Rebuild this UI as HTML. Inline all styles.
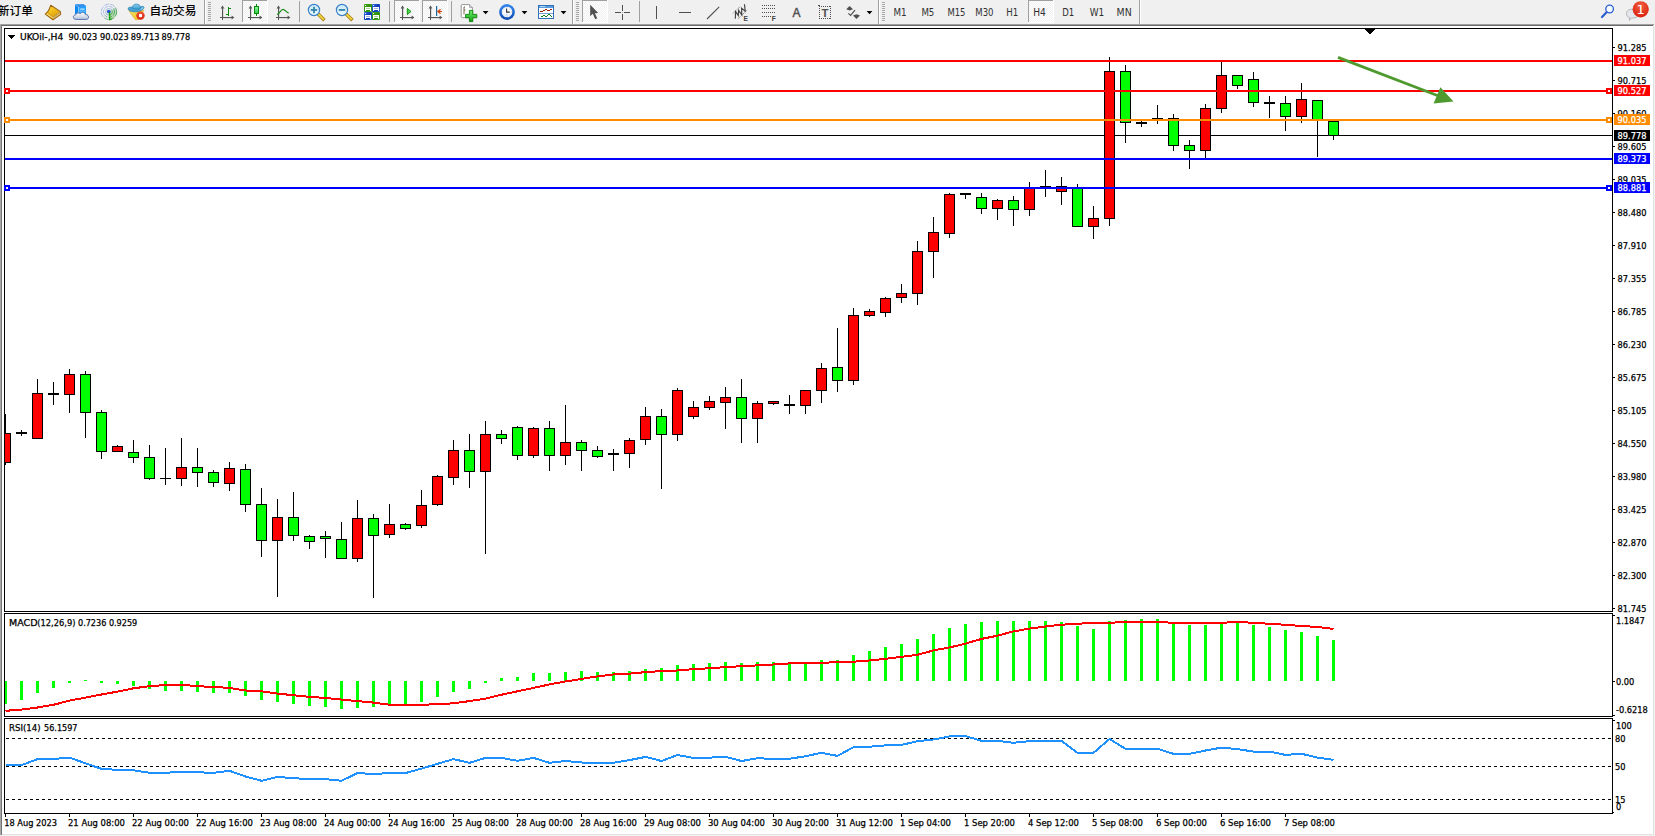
<!DOCTYPE html>
<html><head><meta charset="utf-8"><title>UKOil H4</title>
<style>
html,body{margin:0;padding:0;background:#f0f0f0;overflow:hidden}
body{width:1655px;height:836px;position:relative;font-family:"Liberation Sans","Noto Sans CJK SC",sans-serif}
svg text{white-space:pre}
</style></head><body>
<svg id="chart" width="1655" height="836" viewBox="0 0 1655 836" shape-rendering="crispEdges" font-family="'DejaVu Sans Condensed','DejaVu Sans','Liberation Sans',sans-serif" style="position:absolute;left:0;top:0"><defs><clipPath id="cp"><rect x="5" y="29" width="1607" height="582"/></clipPath><clipPath id="cp2"><rect x="5" y="614" width="1607" height="102"/></clipPath><clipPath id="cp3"><rect x="5" y="719" width="1607" height="94"/></clipPath></defs><rect x="0" y="24" width="1655" height="812" fill="#ffffff"/>
<rect x="0" y="24" width="1654" height="1" fill="#a0a0a0"/>
<rect x="1" y="25" width="1652" height="1" fill="#696969"/>
<rect x="0" y="24" width="1" height="811" fill="#a8a8a8"/>
<rect x="1" y="25" width="1" height="810" fill="#747474"/>
<rect x="1653" y="25" width="1" height="810" fill="#e3e3e3"/>
<rect x="1654" y="24" width="1" height="812" fill="#f2f2f2"/>
<rect x="2" y="834" width="1652" height="1" fill="#e3e3e3"/>
<rect x="0" y="835" width="1655" height="1" fill="#f2f2f2"/>
<rect x="4" y="28" width="1609" height="1" fill="#000"/>
<rect x="4" y="28" width="1" height="584" fill="#000"/>
<rect x="4" y="611" width="1609" height="1" fill="#000"/>
<rect x="1612" y="28" width="1" height="584" fill="#000"/>
<rect x="4" y="613" width="1609" height="1" fill="#000"/>
<rect x="4" y="613" width="1" height="104" fill="#000"/>
<rect x="4" y="716" width="1609" height="1" fill="#000"/>
<rect x="1612" y="613" width="1" height="104" fill="#000"/>
<rect x="4" y="718" width="1609" height="1" fill="#000"/>
<rect x="4" y="718" width="1" height="96" fill="#000"/>
<rect x="4" y="813" width="1609" height="1" fill="#000"/>
<rect x="1612" y="718" width="1" height="96" fill="#000"/>
<rect x="5" y="135" width="1607" height="1" fill="#000"/>
<g clip-path="url(#cp)">
<rect x="5" y="414" width="1" height="51" fill="#000"/>
<rect x="0" y="433" width="11" height="30" fill="#000"/>
<rect x="1" y="434" width="9" height="28" fill="#ff0000"/>
<rect x="21" y="430" width="1" height="6" fill="#000"/>
<rect x="16" y="432" width="11" height="2" fill="#000"/>
<rect x="37" y="379" width="1" height="60" fill="#000"/>
<rect x="32" y="393" width="11" height="46" fill="#000"/>
<rect x="33" y="394" width="9" height="44" fill="#ff0000"/>
<rect x="53" y="382" width="1" height="23" fill="#000"/>
<rect x="48" y="393" width="11" height="2" fill="#000"/>
<rect x="69" y="369" width="1" height="44" fill="#000"/>
<rect x="64" y="374" width="11" height="21" fill="#000"/>
<rect x="65" y="375" width="9" height="19" fill="#ff0000"/>
<rect x="85" y="371" width="1" height="67" fill="#000"/>
<rect x="80" y="374" width="11" height="39" fill="#000"/>
<rect x="81" y="375" width="9" height="37" fill="#00ff00"/>
<rect x="101" y="410" width="1" height="49" fill="#000"/>
<rect x="96" y="412" width="11" height="40" fill="#000"/>
<rect x="97" y="413" width="9" height="38" fill="#00ff00"/>
<rect x="117" y="445" width="1" height="7" fill="#000"/>
<rect x="112" y="446" width="11" height="6" fill="#000"/>
<rect x="113" y="447" width="9" height="4" fill="#ff0000"/>
<rect x="133" y="440" width="1" height="23" fill="#000"/>
<rect x="128" y="452" width="11" height="6" fill="#000"/>
<rect x="129" y="453" width="9" height="4" fill="#00ff00"/>
<rect x="149" y="445" width="1" height="35" fill="#000"/>
<rect x="144" y="457" width="11" height="22" fill="#000"/>
<rect x="145" y="458" width="9" height="20" fill="#00ff00"/>
<rect x="165" y="448" width="1" height="37" fill="#000"/>
<rect x="160" y="478" width="11" height="1" fill="#000"/>
<rect x="181" y="438" width="1" height="48" fill="#000"/>
<rect x="176" y="467" width="11" height="12" fill="#000"/>
<rect x="177" y="468" width="9" height="10" fill="#ff0000"/>
<rect x="197" y="448" width="1" height="39" fill="#000"/>
<rect x="192" y="467" width="11" height="6" fill="#000"/>
<rect x="193" y="468" width="9" height="4" fill="#00ff00"/>
<rect x="213" y="470" width="1" height="17" fill="#000"/>
<rect x="208" y="472" width="11" height="11" fill="#000"/>
<rect x="209" y="473" width="9" height="9" fill="#00ff00"/>
<rect x="229" y="462" width="1" height="29" fill="#000"/>
<rect x="224" y="468" width="11" height="16" fill="#000"/>
<rect x="225" y="469" width="9" height="14" fill="#ff0000"/>
<rect x="245" y="464" width="1" height="48" fill="#000"/>
<rect x="240" y="469" width="11" height="36" fill="#000"/>
<rect x="241" y="470" width="9" height="34" fill="#00ff00"/>
<rect x="261" y="488" width="1" height="69" fill="#000"/>
<rect x="256" y="504" width="11" height="37" fill="#000"/>
<rect x="257" y="505" width="9" height="35" fill="#00ff00"/>
<rect x="277" y="499" width="1" height="98" fill="#000"/>
<rect x="272" y="517" width="11" height="24" fill="#000"/>
<rect x="273" y="518" width="9" height="22" fill="#ff0000"/>
<rect x="293" y="492" width="1" height="49" fill="#000"/>
<rect x="288" y="517" width="11" height="19" fill="#000"/>
<rect x="289" y="518" width="9" height="17" fill="#00ff00"/>
<rect x="309" y="535" width="1" height="14" fill="#000"/>
<rect x="304" y="536" width="11" height="6" fill="#000"/>
<rect x="305" y="537" width="9" height="4" fill="#00ff00"/>
<rect x="325" y="531" width="1" height="27" fill="#000"/>
<rect x="320" y="536" width="11" height="3" fill="#000"/>
<rect x="321" y="537" width="9" height="1" fill="#00ff00"/>
<rect x="341" y="522" width="1" height="37" fill="#000"/>
<rect x="336" y="539" width="11" height="20" fill="#000"/>
<rect x="337" y="540" width="9" height="18" fill="#00ff00"/>
<rect x="357" y="500" width="1" height="62" fill="#000"/>
<rect x="352" y="518" width="11" height="41" fill="#000"/>
<rect x="353" y="519" width="9" height="39" fill="#ff0000"/>
<rect x="373" y="514" width="1" height="84" fill="#000"/>
<rect x="368" y="518" width="11" height="18" fill="#000"/>
<rect x="369" y="519" width="9" height="16" fill="#00ff00"/>
<rect x="389" y="504" width="1" height="34" fill="#000"/>
<rect x="384" y="524" width="11" height="11" fill="#000"/>
<rect x="385" y="525" width="9" height="9" fill="#ff0000"/>
<rect x="405" y="523" width="1" height="7" fill="#000"/>
<rect x="400" y="524" width="11" height="5" fill="#000"/>
<rect x="401" y="525" width="9" height="3" fill="#00ff00"/>
<rect x="421" y="490" width="1" height="38" fill="#000"/>
<rect x="416" y="505" width="11" height="21" fill="#000"/>
<rect x="417" y="506" width="9" height="19" fill="#ff0000"/>
<rect x="437" y="475" width="1" height="31" fill="#000"/>
<rect x="432" y="476" width="11" height="29" fill="#000"/>
<rect x="433" y="477" width="9" height="27" fill="#ff0000"/>
<rect x="453" y="440" width="1" height="45" fill="#000"/>
<rect x="448" y="450" width="11" height="28" fill="#000"/>
<rect x="449" y="451" width="9" height="26" fill="#ff0000"/>
<rect x="469" y="434" width="1" height="54" fill="#000"/>
<rect x="464" y="450" width="11" height="22" fill="#000"/>
<rect x="465" y="451" width="9" height="20" fill="#00ff00"/>
<rect x="485" y="421" width="1" height="133" fill="#000"/>
<rect x="480" y="434" width="11" height="38" fill="#000"/>
<rect x="481" y="435" width="9" height="36" fill="#ff0000"/>
<rect x="501" y="430" width="1" height="14" fill="#000"/>
<rect x="496" y="434" width="11" height="5" fill="#000"/>
<rect x="497" y="435" width="9" height="3" fill="#00ff00"/>
<rect x="517" y="426" width="1" height="34" fill="#000"/>
<rect x="512" y="427" width="11" height="29" fill="#000"/>
<rect x="513" y="428" width="9" height="27" fill="#00ff00"/>
<rect x="533" y="427" width="1" height="31" fill="#000"/>
<rect x="528" y="428" width="11" height="28" fill="#000"/>
<rect x="529" y="429" width="9" height="26" fill="#ff0000"/>
<rect x="549" y="421" width="1" height="50" fill="#000"/>
<rect x="544" y="428" width="11" height="28" fill="#000"/>
<rect x="545" y="429" width="9" height="26" fill="#00ff00"/>
<rect x="565" y="405" width="1" height="60" fill="#000"/>
<rect x="560" y="442" width="11" height="14" fill="#000"/>
<rect x="561" y="443" width="9" height="12" fill="#ff0000"/>
<rect x="581" y="440" width="1" height="31" fill="#000"/>
<rect x="576" y="442" width="11" height="9" fill="#000"/>
<rect x="577" y="443" width="9" height="7" fill="#00ff00"/>
<rect x="597" y="446" width="1" height="12" fill="#000"/>
<rect x="592" y="450" width="11" height="7" fill="#000"/>
<rect x="593" y="451" width="9" height="5" fill="#00ff00"/>
<rect x="613" y="449" width="1" height="22" fill="#000"/>
<rect x="608" y="453" width="11" height="2" fill="#000"/>
<rect x="629" y="438" width="1" height="30" fill="#000"/>
<rect x="624" y="440" width="11" height="14" fill="#000"/>
<rect x="625" y="441" width="9" height="12" fill="#ff0000"/>
<rect x="645" y="407" width="1" height="38" fill="#000"/>
<rect x="640" y="416" width="11" height="24" fill="#000"/>
<rect x="641" y="417" width="9" height="22" fill="#ff0000"/>
<rect x="661" y="409" width="1" height="80" fill="#000"/>
<rect x="656" y="416" width="11" height="19" fill="#000"/>
<rect x="657" y="417" width="9" height="17" fill="#00ff00"/>
<rect x="677" y="388" width="1" height="53" fill="#000"/>
<rect x="672" y="390" width="11" height="45" fill="#000"/>
<rect x="673" y="391" width="9" height="43" fill="#ff0000"/>
<rect x="693" y="401" width="1" height="18" fill="#000"/>
<rect x="688" y="407" width="11" height="10" fill="#000"/>
<rect x="689" y="408" width="9" height="8" fill="#ff0000"/>
<rect x="709" y="396" width="1" height="14" fill="#000"/>
<rect x="704" y="401" width="11" height="7" fill="#000"/>
<rect x="705" y="402" width="9" height="5" fill="#ff0000"/>
<rect x="725" y="387" width="1" height="42" fill="#000"/>
<rect x="720" y="397" width="11" height="6" fill="#000"/>
<rect x="721" y="398" width="9" height="4" fill="#ff0000"/>
<rect x="741" y="379" width="1" height="64" fill="#000"/>
<rect x="736" y="397" width="11" height="22" fill="#000"/>
<rect x="737" y="398" width="9" height="20" fill="#00ff00"/>
<rect x="757" y="401" width="1" height="42" fill="#000"/>
<rect x="752" y="403" width="11" height="16" fill="#000"/>
<rect x="753" y="404" width="9" height="14" fill="#ff0000"/>
<rect x="773" y="401" width="1" height="4" fill="#000"/>
<rect x="768" y="401" width="11" height="3" fill="#000"/>
<rect x="769" y="402" width="9" height="1" fill="#ff0000"/>
<rect x="789" y="395" width="1" height="19" fill="#000"/>
<rect x="784" y="404" width="11" height="2" fill="#000"/>
<rect x="805" y="390" width="1" height="24" fill="#000"/>
<rect x="800" y="390" width="11" height="16" fill="#000"/>
<rect x="801" y="391" width="9" height="14" fill="#ff0000"/>
<rect x="821" y="363" width="1" height="40" fill="#000"/>
<rect x="816" y="368" width="11" height="23" fill="#000"/>
<rect x="817" y="369" width="9" height="21" fill="#ff0000"/>
<rect x="837" y="328" width="1" height="64" fill="#000"/>
<rect x="832" y="367" width="11" height="14" fill="#000"/>
<rect x="833" y="368" width="9" height="12" fill="#00ff00"/>
<rect x="853" y="308" width="1" height="77" fill="#000"/>
<rect x="848" y="315" width="11" height="66" fill="#000"/>
<rect x="849" y="316" width="9" height="64" fill="#ff0000"/>
<rect x="869" y="309" width="1" height="8" fill="#000"/>
<rect x="864" y="311" width="11" height="5" fill="#000"/>
<rect x="865" y="312" width="9" height="3" fill="#ff0000"/>
<rect x="885" y="297" width="1" height="20" fill="#000"/>
<rect x="880" y="298" width="11" height="15" fill="#000"/>
<rect x="881" y="299" width="9" height="13" fill="#ff0000"/>
<rect x="901" y="284" width="1" height="19" fill="#000"/>
<rect x="896" y="293" width="11" height="5" fill="#000"/>
<rect x="897" y="294" width="9" height="3" fill="#ff0000"/>
<rect x="917" y="241" width="1" height="64" fill="#000"/>
<rect x="912" y="251" width="11" height="43" fill="#000"/>
<rect x="913" y="252" width="9" height="41" fill="#ff0000"/>
<rect x="933" y="217" width="1" height="61" fill="#000"/>
<rect x="928" y="232" width="11" height="20" fill="#000"/>
<rect x="929" y="233" width="9" height="18" fill="#ff0000"/>
<rect x="949" y="193" width="1" height="45" fill="#000"/>
<rect x="944" y="194" width="11" height="40" fill="#000"/>
<rect x="945" y="195" width="9" height="38" fill="#ff0000"/>
<rect x="965" y="193" width="1" height="6" fill="#000"/>
<rect x="960" y="193" width="11" height="2" fill="#000"/>
<rect x="981" y="193" width="1" height="21" fill="#000"/>
<rect x="976" y="197" width="11" height="12" fill="#000"/>
<rect x="977" y="198" width="9" height="10" fill="#00ff00"/>
<rect x="997" y="199" width="1" height="21" fill="#000"/>
<rect x="992" y="200" width="11" height="9" fill="#000"/>
<rect x="993" y="201" width="9" height="7" fill="#ff0000"/>
<rect x="1013" y="196" width="1" height="30" fill="#000"/>
<rect x="1008" y="200" width="11" height="10" fill="#000"/>
<rect x="1009" y="201" width="9" height="8" fill="#00ff00"/>
<rect x="1029" y="182" width="1" height="34" fill="#000"/>
<rect x="1024" y="188" width="11" height="22" fill="#000"/>
<rect x="1025" y="189" width="9" height="20" fill="#ff0000"/>
<rect x="1045" y="170" width="1" height="27" fill="#000"/>
<rect x="1040" y="186" width="11" height="1" fill="#000"/>
<rect x="1061" y="177" width="1" height="28" fill="#000"/>
<rect x="1056" y="186" width="11" height="6" fill="#000"/>
<rect x="1057" y="187" width="9" height="4" fill="#ff0000"/>
<rect x="1077" y="184" width="1" height="43" fill="#000"/>
<rect x="1072" y="187" width="11" height="40" fill="#000"/>
<rect x="1073" y="188" width="9" height="38" fill="#00ff00"/>
<rect x="1093" y="206" width="1" height="33" fill="#000"/>
<rect x="1088" y="218" width="11" height="9" fill="#000"/>
<rect x="1089" y="219" width="9" height="7" fill="#ff0000"/>
<rect x="1109" y="57" width="1" height="169" fill="#000"/>
<rect x="1104" y="71" width="11" height="148" fill="#000"/>
<rect x="1105" y="72" width="9" height="146" fill="#ff0000"/>
<rect x="1125" y="65" width="1" height="78" fill="#000"/>
<rect x="1120" y="71" width="11" height="52" fill="#000"/>
<rect x="1121" y="72" width="9" height="50" fill="#00ff00"/>
<rect x="1141" y="121" width="1" height="6" fill="#000"/>
<rect x="1136" y="122" width="11" height="2" fill="#000"/>
<rect x="1157" y="105" width="1" height="19" fill="#000"/>
<rect x="1152" y="118" width="11" height="1" fill="#000"/>
<rect x="1173" y="114" width="1" height="37" fill="#000"/>
<rect x="1168" y="118" width="11" height="28" fill="#000"/>
<rect x="1169" y="119" width="9" height="26" fill="#00ff00"/>
<rect x="1189" y="140" width="1" height="29" fill="#000"/>
<rect x="1184" y="145" width="11" height="6" fill="#000"/>
<rect x="1185" y="146" width="9" height="4" fill="#00ff00"/>
<rect x="1205" y="104" width="1" height="55" fill="#000"/>
<rect x="1200" y="108" width="11" height="43" fill="#000"/>
<rect x="1201" y="109" width="9" height="41" fill="#ff0000"/>
<rect x="1221" y="60" width="1" height="53" fill="#000"/>
<rect x="1216" y="75" width="11" height="34" fill="#000"/>
<rect x="1217" y="76" width="9" height="32" fill="#ff0000"/>
<rect x="1237" y="75" width="1" height="14" fill="#000"/>
<rect x="1232" y="75" width="11" height="11" fill="#000"/>
<rect x="1233" y="76" width="9" height="9" fill="#00ff00"/>
<rect x="1253" y="72" width="1" height="35" fill="#000"/>
<rect x="1248" y="79" width="11" height="24" fill="#000"/>
<rect x="1249" y="80" width="9" height="22" fill="#00ff00"/>
<rect x="1269" y="96" width="1" height="22" fill="#000"/>
<rect x="1264" y="102" width="11" height="2" fill="#000"/>
<rect x="1285" y="96" width="1" height="35" fill="#000"/>
<rect x="1280" y="103" width="11" height="14" fill="#000"/>
<rect x="1281" y="104" width="9" height="12" fill="#00ff00"/>
<rect x="1301" y="83" width="1" height="40" fill="#000"/>
<rect x="1296" y="99" width="11" height="18" fill="#000"/>
<rect x="1297" y="100" width="9" height="16" fill="#ff0000"/>
<rect x="1317" y="100" width="1" height="57" fill="#000"/>
<rect x="1312" y="100" width="11" height="21" fill="#000"/>
<rect x="1313" y="101" width="9" height="19" fill="#00ff00"/>
<rect x="1333" y="121" width="1" height="19" fill="#000"/>
<rect x="1328" y="121" width="11" height="15" fill="#000"/>
<rect x="1329" y="122" width="9" height="13" fill="#00ff00"/>
</g>
<rect x="5" y="60" width="1607" height="2" fill="#ff0000"/>
<rect x="5" y="90" width="1607" height="2" fill="#ff0000"/>
<rect x="4" y="88" width="6" height="6" fill="#ff0000"/>
<rect x="6" y="90" width="2" height="2" fill="#fff"/>
<rect x="1606" y="88" width="6" height="6" fill="#ff0000"/>
<rect x="1608" y="90" width="2" height="2" fill="#fff"/>
<rect x="5" y="119" width="1607" height="2" fill="#ff8c00"/>
<rect x="4" y="117" width="6" height="6" fill="#ff8c00"/>
<rect x="6" y="119" width="2" height="2" fill="#fff"/>
<rect x="1606" y="117" width="6" height="6" fill="#ff8c00"/>
<rect x="1608" y="119" width="2" height="2" fill="#fff"/>
<rect x="5" y="158" width="1607" height="2" fill="#0000ff"/>
<rect x="5" y="187" width="1607" height="2" fill="#0000ff"/>
<rect x="4" y="185" width="6" height="6" fill="#0000ff"/>
<rect x="6" y="187" width="2" height="2" fill="#fff"/>
<rect x="1606" y="185" width="6" height="6" fill="#0000ff"/>
<rect x="1608" y="187" width="2" height="2" fill="#fff"/>
<g shape-rendering="geometricPrecision"><line x1="1338" y1="57.4" x2="1440" y2="96.5" stroke="#4f9a2f" stroke-width="2.8"/><polygon points="1453.5,101.4 1440.4,87.2 1433.6,103.6" fill="#4f9a2f"/></g>
<rect x="1365" y="29" width="10" height="1" fill="#000"/>
<rect x="1366" y="30" width="8" height="1" fill="#000"/>
<rect x="1367" y="31" width="6" height="1" fill="#000"/>
<rect x="1368" y="32" width="4" height="1" fill="#000"/>
<rect x="1369" y="33" width="2" height="1" fill="#000"/>
<rect x="1613" y="47" width="2" height="1" fill="#000"/>
<text transform="translate(1617.6,51) scale(1,1.0)" font-size="9.4" fill="#000" stroke="#000" stroke-width="0.25" text-anchor="start" textLength="28.85" lengthAdjust="spacingAndGlyphs">91.285</text>
<rect x="1613" y="80" width="2" height="1" fill="#000"/>
<text transform="translate(1617.6,84) scale(1,1.0)" font-size="9.4" fill="#000" stroke="#000" stroke-width="0.25" text-anchor="start" textLength="28.85" lengthAdjust="spacingAndGlyphs">90.715</text>
<rect x="1613" y="113" width="2" height="1" fill="#000"/>
<text transform="translate(1617.6,117) scale(1,1.0)" font-size="9.4" fill="#000" stroke="#000" stroke-width="0.25" text-anchor="start" textLength="28.85" lengthAdjust="spacingAndGlyphs">90.160</text>
<rect x="1613" y="146" width="2" height="1" fill="#000"/>
<text transform="translate(1617.6,150) scale(1,1.0)" font-size="9.4" fill="#000" stroke="#000" stroke-width="0.25" text-anchor="start" textLength="28.85" lengthAdjust="spacingAndGlyphs">89.605</text>
<rect x="1613" y="179" width="2" height="1" fill="#000"/>
<text transform="translate(1617.6,183) scale(1,1.0)" font-size="9.4" fill="#000" stroke="#000" stroke-width="0.25" text-anchor="start" textLength="28.85" lengthAdjust="spacingAndGlyphs">89.035</text>
<rect x="1613" y="212" width="2" height="1" fill="#000"/>
<text transform="translate(1617.6,216) scale(1,1.0)" font-size="9.4" fill="#000" stroke="#000" stroke-width="0.25" text-anchor="start" textLength="28.85" lengthAdjust="spacingAndGlyphs">88.480</text>
<rect x="1613" y="245" width="2" height="1" fill="#000"/>
<text transform="translate(1617.6,249) scale(1,1.0)" font-size="9.4" fill="#000" stroke="#000" stroke-width="0.25" text-anchor="start" textLength="28.85" lengthAdjust="spacingAndGlyphs">87.910</text>
<rect x="1613" y="278" width="2" height="1" fill="#000"/>
<text transform="translate(1617.6,282) scale(1,1.0)" font-size="9.4" fill="#000" stroke="#000" stroke-width="0.25" text-anchor="start" textLength="28.85" lengthAdjust="spacingAndGlyphs">87.355</text>
<rect x="1613" y="311" width="2" height="1" fill="#000"/>
<text transform="translate(1617.6,315) scale(1,1.0)" font-size="9.4" fill="#000" stroke="#000" stroke-width="0.25" text-anchor="start" textLength="28.85" lengthAdjust="spacingAndGlyphs">86.785</text>
<rect x="1613" y="344" width="2" height="1" fill="#000"/>
<text transform="translate(1617.6,348) scale(1,1.0)" font-size="9.4" fill="#000" stroke="#000" stroke-width="0.25" text-anchor="start" textLength="28.85" lengthAdjust="spacingAndGlyphs">86.230</text>
<rect x="1613" y="377" width="2" height="1" fill="#000"/>
<text transform="translate(1617.6,381) scale(1,1.0)" font-size="9.4" fill="#000" stroke="#000" stroke-width="0.25" text-anchor="start" textLength="28.85" lengthAdjust="spacingAndGlyphs">85.675</text>
<rect x="1613" y="410" width="2" height="1" fill="#000"/>
<text transform="translate(1617.6,414) scale(1,1.0)" font-size="9.4" fill="#000" stroke="#000" stroke-width="0.25" text-anchor="start" textLength="28.85" lengthAdjust="spacingAndGlyphs">85.105</text>
<rect x="1613" y="443" width="2" height="1" fill="#000"/>
<text transform="translate(1617.6,447) scale(1,1.0)" font-size="9.4" fill="#000" stroke="#000" stroke-width="0.25" text-anchor="start" textLength="28.85" lengthAdjust="spacingAndGlyphs">84.550</text>
<rect x="1613" y="476" width="2" height="1" fill="#000"/>
<text transform="translate(1617.6,480) scale(1,1.0)" font-size="9.4" fill="#000" stroke="#000" stroke-width="0.25" text-anchor="start" textLength="28.85" lengthAdjust="spacingAndGlyphs">83.980</text>
<rect x="1613" y="509" width="2" height="1" fill="#000"/>
<text transform="translate(1617.6,513) scale(1,1.0)" font-size="9.4" fill="#000" stroke="#000" stroke-width="0.25" text-anchor="start" textLength="28.85" lengthAdjust="spacingAndGlyphs">83.425</text>
<rect x="1613" y="542" width="2" height="1" fill="#000"/>
<text transform="translate(1617.6,546) scale(1,1.0)" font-size="9.4" fill="#000" stroke="#000" stroke-width="0.25" text-anchor="start" textLength="28.85" lengthAdjust="spacingAndGlyphs">82.870</text>
<rect x="1613" y="575" width="2" height="1" fill="#000"/>
<text transform="translate(1617.6,579) scale(1,1.0)" font-size="9.4" fill="#000" stroke="#000" stroke-width="0.25" text-anchor="start" textLength="28.85" lengthAdjust="spacingAndGlyphs">82.300</text>
<rect x="1613" y="608" width="2" height="1" fill="#000"/>
<text transform="translate(1617.6,612) scale(1,1.0)" font-size="9.4" fill="#000" stroke="#000" stroke-width="0.25" text-anchor="start" textLength="28.85" lengthAdjust="spacingAndGlyphs">81.745</text>
<rect x="1614" y="55" width="36" height="11" fill="#ff0000"/>
<text transform="translate(1617.6,64) scale(1,1.0)" font-size="9.4" fill="#fff" stroke="#fff" stroke-width="0.25" text-anchor="start" textLength="28.85" lengthAdjust="spacingAndGlyphs">91.037</text>
<rect x="1614" y="85" width="36" height="11" fill="#ff0000"/>
<text transform="translate(1617.6,94) scale(1,1.0)" font-size="9.4" fill="#fff" stroke="#fff" stroke-width="0.25" text-anchor="start" textLength="28.85" lengthAdjust="spacingAndGlyphs">90.527</text>
<rect x="1614" y="114" width="36" height="11" fill="#ff8c00"/>
<text transform="translate(1617.6,123) scale(1,1.0)" font-size="9.4" fill="#fff" stroke="#fff" stroke-width="0.25" text-anchor="start" textLength="28.85" lengthAdjust="spacingAndGlyphs">90.035</text>
<rect x="1614" y="130" width="36" height="11" fill="#000"/>
<text transform="translate(1617.6,139) scale(1,1.0)" font-size="9.4" fill="#fff" stroke="#fff" stroke-width="0.25" text-anchor="start" textLength="28.85" lengthAdjust="spacingAndGlyphs">89.778</text>
<rect x="1614" y="153" width="36" height="11" fill="#0000ff"/>
<text transform="translate(1617.6,162) scale(1,1.0)" font-size="9.4" fill="#fff" stroke="#fff" stroke-width="0.25" text-anchor="start" textLength="28.85" lengthAdjust="spacingAndGlyphs">89.373</text>
<rect x="1614" y="182" width="36" height="11" fill="#0000ff"/>
<text transform="translate(1617.6,191) scale(1,1.0)" font-size="9.4" fill="#fff" stroke="#fff" stroke-width="0.25" text-anchor="start" textLength="28.85" lengthAdjust="spacingAndGlyphs">88.881</text>
<rect x="8" y="35" width="7" height="1" fill="#000"/>
<rect x="9" y="36" width="5" height="1" fill="#000"/>
<rect x="10" y="37" width="3" height="1" fill="#000"/>
<rect x="11" y="38" width="1" height="1" fill="#000"/>
<text transform="translate(0,40)" font-size="9.4" fill="#000" stroke="#000" stroke-width="0.25"><tspan x="20" textLength="43.2" lengthAdjust="spacingAndGlyphs">UKOil-,H4</tspan><tspan> </tspan><tspan x="68.6" textLength="28.7" lengthAdjust="spacingAndGlyphs">90.023</tspan><tspan> </tspan><tspan x="100.0" textLength="28.7" lengthAdjust="spacingAndGlyphs">90.023</tspan><tspan> </tspan><tspan x="130.8" textLength="28.7" lengthAdjust="spacingAndGlyphs">89.713</tspan><tspan> </tspan><tspan x="161.6" textLength="28.7" lengthAdjust="spacingAndGlyphs">89.778</tspan></text>
<g clip-path="url(#cp2)">
<rect x="4" y="681" width="3" height="23" fill="#00ff00"/>
<rect x="20" y="681" width="3" height="19" fill="#00ff00"/>
<rect x="36" y="681" width="3" height="12" fill="#00ff00"/>
<rect x="52" y="681" width="3" height="7" fill="#00ff00"/>
<rect x="68" y="681" width="3" height="2" fill="#00ff00"/>
<rect x="84" y="680" width="3" height="1" fill="#00ff00"/>
<rect x="100" y="681" width="3" height="2" fill="#00ff00"/>
<rect x="116" y="681" width="3" height="3" fill="#00ff00"/>
<rect x="132" y="681" width="3" height="5" fill="#00ff00"/>
<rect x="148" y="681" width="3" height="8" fill="#00ff00"/>
<rect x="164" y="681" width="3" height="10" fill="#00ff00"/>
<rect x="180" y="681" width="3" height="10" fill="#00ff00"/>
<rect x="196" y="681" width="3" height="11" fill="#00ff00"/>
<rect x="212" y="681" width="3" height="12" fill="#00ff00"/>
<rect x="228" y="681" width="3" height="12" fill="#00ff00"/>
<rect x="244" y="681" width="3" height="15" fill="#00ff00"/>
<rect x="260" y="681" width="3" height="19" fill="#00ff00"/>
<rect x="276" y="681" width="3" height="21" fill="#00ff00"/>
<rect x="292" y="681" width="3" height="23" fill="#00ff00"/>
<rect x="308" y="681" width="3" height="25" fill="#00ff00"/>
<rect x="324" y="681" width="3" height="26" fill="#00ff00"/>
<rect x="340" y="681" width="3" height="28" fill="#00ff00"/>
<rect x="356" y="681" width="3" height="27" fill="#00ff00"/>
<rect x="372" y="681" width="3" height="26" fill="#00ff00"/>
<rect x="388" y="681" width="3" height="24" fill="#00ff00"/>
<rect x="404" y="681" width="3" height="23" fill="#00ff00"/>
<rect x="420" y="681" width="3" height="21" fill="#00ff00"/>
<rect x="436" y="681" width="3" height="16" fill="#00ff00"/>
<rect x="452" y="681" width="3" height="11" fill="#00ff00"/>
<rect x="468" y="681" width="3" height="8" fill="#00ff00"/>
<rect x="484" y="681" width="3" height="2" fill="#00ff00"/>
<rect x="500" y="678" width="3" height="3" fill="#00ff00"/>
<rect x="516" y="677" width="3" height="4" fill="#00ff00"/>
<rect x="532" y="673" width="3" height="8" fill="#00ff00"/>
<rect x="548" y="673" width="3" height="8" fill="#00ff00"/>
<rect x="564" y="672" width="3" height="9" fill="#00ff00"/>
<rect x="580" y="671" width="3" height="10" fill="#00ff00"/>
<rect x="596" y="672" width="3" height="9" fill="#00ff00"/>
<rect x="612" y="672" width="3" height="9" fill="#00ff00"/>
<rect x="628" y="671" width="3" height="10" fill="#00ff00"/>
<rect x="644" y="669" width="3" height="12" fill="#00ff00"/>
<rect x="660" y="668" width="3" height="13" fill="#00ff00"/>
<rect x="676" y="665" width="3" height="16" fill="#00ff00"/>
<rect x="692" y="664" width="3" height="17" fill="#00ff00"/>
<rect x="708" y="663" width="3" height="18" fill="#00ff00"/>
<rect x="724" y="662" width="3" height="19" fill="#00ff00"/>
<rect x="740" y="663" width="3" height="18" fill="#00ff00"/>
<rect x="756" y="662" width="3" height="19" fill="#00ff00"/>
<rect x="772" y="662" width="3" height="19" fill="#00ff00"/>
<rect x="788" y="663" width="3" height="18" fill="#00ff00"/>
<rect x="804" y="663" width="3" height="18" fill="#00ff00"/>
<rect x="820" y="660" width="3" height="21" fill="#00ff00"/>
<rect x="836" y="660" width="3" height="21" fill="#00ff00"/>
<rect x="852" y="655" width="3" height="26" fill="#00ff00"/>
<rect x="868" y="651" width="3" height="30" fill="#00ff00"/>
<rect x="884" y="647" width="3" height="34" fill="#00ff00"/>
<rect x="900" y="644" width="3" height="37" fill="#00ff00"/>
<rect x="916" y="639" width="3" height="42" fill="#00ff00"/>
<rect x="932" y="634" width="3" height="47" fill="#00ff00"/>
<rect x="948" y="628" width="3" height="53" fill="#00ff00"/>
<rect x="964" y="624" width="3" height="57" fill="#00ff00"/>
<rect x="980" y="622" width="3" height="59" fill="#00ff00"/>
<rect x="996" y="621" width="3" height="60" fill="#00ff00"/>
<rect x="1012" y="621" width="3" height="60" fill="#00ff00"/>
<rect x="1028" y="621" width="3" height="60" fill="#00ff00"/>
<rect x="1044" y="621" width="3" height="60" fill="#00ff00"/>
<rect x="1060" y="622" width="3" height="59" fill="#00ff00"/>
<rect x="1076" y="626" width="3" height="55" fill="#00ff00"/>
<rect x="1092" y="629" width="3" height="52" fill="#00ff00"/>
<rect x="1108" y="621" width="3" height="60" fill="#00ff00"/>
<rect x="1124" y="620" width="3" height="61" fill="#00ff00"/>
<rect x="1140" y="619" width="3" height="62" fill="#00ff00"/>
<rect x="1156" y="619" width="3" height="62" fill="#00ff00"/>
<rect x="1172" y="622" width="3" height="59" fill="#00ff00"/>
<rect x="1188" y="625" width="3" height="56" fill="#00ff00"/>
<rect x="1204" y="625" width="3" height="56" fill="#00ff00"/>
<rect x="1220" y="623" width="3" height="58" fill="#00ff00"/>
<rect x="1236" y="622" width="3" height="59" fill="#00ff00"/>
<rect x="1252" y="625" width="3" height="56" fill="#00ff00"/>
<rect x="1268" y="627" width="3" height="54" fill="#00ff00"/>
<rect x="1284" y="630" width="3" height="51" fill="#00ff00"/>
<rect x="1300" y="632" width="3" height="49" fill="#00ff00"/>
<rect x="1316" y="636" width="3" height="45" fill="#00ff00"/>
<rect x="1332" y="640" width="3" height="41" fill="#00ff00"/>
</g>
<g clip-path="url(#cp2)">
<polyline points="5.5,710.8 21.5,709.6 37.5,707.5 53.5,704.8 69.5,700.6 85.5,697.6 101.5,694.5 117.5,691.6 133.5,688.3 149.5,686.2 165.5,685 181.5,684.8 197.5,686.2 213.5,687 229.5,687.9 245.5,690.5 261.5,691.3 277.5,693.6 293.5,695.2 309.5,696.9 325.5,697.9 341.5,699.6 357.5,701.1 373.5,702.6 389.5,704.7 405.5,704.7 421.5,704.7 437.5,704.3 453.5,703.3 469.5,701.1 485.5,698.6 501.5,694.7 517.5,691.3 533.5,687.9 549.5,684.4 565.5,681.5 581.5,678.9 597.5,676.4 613.5,674.5 629.5,673.7 645.5,672.1 661.5,671.1 677.5,670.5 693.5,669.1 709.5,668.3 725.5,667.1 741.5,666.2 757.5,665.4 773.5,664.5 789.5,663.4 805.5,662.7 821.5,662.7 837.5,662.3 853.5,661.7 869.5,660.5 885.5,658.8 901.5,656.8 917.5,654.8 933.5,650.4 949.5,647.5 965.5,643.6 981.5,638.9 997.5,635.7 1013.5,631.4 1029.5,628.6 1045.5,626.5 1061.5,624.7 1077.5,623.8 1093.5,622.8 1109.5,622.8 1125.5,622 1141.5,622 1157.5,622 1173.5,622.8 1189.5,622.8 1205.5,622.8 1221.5,622.8 1237.5,622 1253.5,622.8 1269.5,623.8 1285.5,624.8 1301.5,626 1317.5,627 1333.5,629" fill="none" stroke="#ff0000" stroke-width="2" stroke-linejoin="round"/>
</g>
<text transform="translate(0,626)" font-size="9.4" fill="#000" stroke="#000" stroke-width="0.25"><tspan x="9.1" textLength="28.5" lengthAdjust="spacingAndGlyphs">MACD</tspan><tspan x="37.3" textLength="38.2" lengthAdjust="spacingAndGlyphs">(12,26,9)</tspan><tspan> </tspan><tspan x="78.0" textLength="28.3" lengthAdjust="spacingAndGlyphs">0.7236</tspan><tspan> </tspan><tspan x="108.9" textLength="28.3" lengthAdjust="spacingAndGlyphs">0.9259</tspan></text>
<rect x="1613" y="615" width="2" height="1" fill="#000"/>
<text transform="translate(1616,624) scale(1,1.0)" font-size="9.4" fill="#000" stroke="#000" stroke-width="0.25" text-anchor="start" textLength="28.85" lengthAdjust="spacingAndGlyphs">1.1847</text>
<rect x="1613" y="681" width="2" height="1" fill="#000"/>
<text transform="translate(1616,685) scale(1,1.0)" font-size="9.4" fill="#000" stroke="#000" stroke-width="0.25" text-anchor="start" textLength="18.36" lengthAdjust="spacingAndGlyphs">0.00</text>
<rect x="1613" y="715" width="2" height="1" fill="#000"/>
<text transform="translate(1616,713) scale(1,1.0)" font-size="9.4" fill="#000" stroke="#000" stroke-width="0.25" text-anchor="start" textLength="31.83" lengthAdjust="spacingAndGlyphs">-0.6218</text>
<line x1="5" y1="738.5" x2="1612" y2="738.5" stroke="#000" stroke-width="1" stroke-dasharray="3,3" stroke-dashoffset="5"/>
<line x1="5" y1="766.5" x2="1612" y2="766.5" stroke="#000" stroke-width="1" stroke-dasharray="3,3" stroke-dashoffset="5"/>
<line x1="5" y1="799.5" x2="1612" y2="799.5" stroke="#000" stroke-width="1" stroke-dasharray="3,3" stroke-dashoffset="5"/>
<g clip-path="url(#cp3)">
<polyline points="5.5,765.2 21.5,765.2 37.5,759.1 53.5,759 69.5,757.6 85.5,763.3 101.5,768.9 117.5,769.8 133.5,770.3 149.5,772.8 165.5,772.8 181.5,771.8 197.5,772.3 213.5,772.8 229.5,770.8 245.5,776.5 261.5,780.8 277.5,776.9 293.5,778.2 309.5,779.1 325.5,779.1 341.5,780.8 357.5,773.1 373.5,774 389.5,773.1 405.5,773.1 421.5,768.6 437.5,763.8 453.5,759.1 469.5,762.8 485.5,757.9 501.5,757.9 517.5,760.8 533.5,757.9 549.5,762.8 565.5,761 581.5,762.5 597.5,762.8 613.5,762.8 629.5,760.1 645.5,756.9 661.5,761 677.5,755 693.5,757.9 709.5,757.6 725.5,756.9 741.5,761 757.5,758.3 773.5,758.8 789.5,758.8 805.5,756.2 821.5,752.8 837.5,755.9 853.5,747.1 869.5,746.7 885.5,745.4 901.5,744.9 917.5,741.2 933.5,739.5 949.5,736.4 965.5,736.1 981.5,740.8 997.5,740.8 1013.5,742.8 1029.5,741.2 1045.5,740.8 1061.5,740.8 1077.5,752.8 1093.5,752.8 1109.5,739 1125.5,748.8 1141.5,748.8 1157.5,748.8 1173.5,753.8 1189.5,753.8 1205.5,750.5 1221.5,747.6 1237.5,749.1 1253.5,751.6 1269.5,751.6 1285.5,754.9 1301.5,753.8 1317.5,757.6 1333.5,759.9" fill="none" stroke="#1e90ff" stroke-width="2" stroke-linejoin="round"/>
</g>
<text transform="translate(0,731)" font-size="9.4" fill="#000" stroke="#000" stroke-width="0.25"><tspan x="9" textLength="31.6" lengthAdjust="spacingAndGlyphs">RSI(14)</tspan><tspan> </tspan><tspan x="44.1" textLength="33.3" lengthAdjust="spacingAndGlyphs">56.1597</tspan></text>
<rect x="1613" y="720" width="2" height="1" fill="#000"/>
<text transform="translate(1616,729) scale(1,1.0)" font-size="9.4" fill="#000" stroke="#000" stroke-width="0.25" text-anchor="start" textLength="15.74" lengthAdjust="spacingAndGlyphs">100</text>
<text transform="translate(1615,742) scale(1,1.0)" font-size="9.4" fill="#000" stroke="#000" stroke-width="0.25" text-anchor="start" textLength="10.49" lengthAdjust="spacingAndGlyphs">80</text>
<text transform="translate(1615,770) scale(1,1.0)" font-size="9.4" fill="#000" stroke="#000" stroke-width="0.25" text-anchor="start" textLength="10.49" lengthAdjust="spacingAndGlyphs">50</text>
<text transform="translate(1615,803) scale(1,1.0)" font-size="9.4" fill="#000" stroke="#000" stroke-width="0.25" text-anchor="start" textLength="10.49" lengthAdjust="spacingAndGlyphs">15</text>
<text transform="translate(1616,810) scale(1,1.0)" font-size="9.4" fill="#000" stroke="#000" stroke-width="0.25" text-anchor="start" textLength="5.25" lengthAdjust="spacingAndGlyphs">0</text>
<rect x="1613" y="812" width="1" height="1" fill="#000"/>
<rect x="5" y="814" width="1" height="3" fill="#000"/>
<text transform="translate(4.2,826) scale(1,1.0)" font-size="9.4" fill="#000" stroke="#000" stroke-width="0.25" text-anchor="start" textLength="52.8" lengthAdjust="spacingAndGlyphs">18 Aug 2023</text>
<rect x="69" y="814" width="1" height="3" fill="#000"/>
<text transform="translate(68,826) scale(1,1.0)" font-size="9.4" fill="#000" stroke="#000" stroke-width="0.25" text-anchor="start" textLength="56.86" lengthAdjust="spacingAndGlyphs">21 Aug 08:00</text>
<rect x="133" y="814" width="1" height="3" fill="#000"/>
<text transform="translate(132,826) scale(1,1.0)" font-size="9.4" fill="#000" stroke="#000" stroke-width="0.25" text-anchor="start" textLength="56.86" lengthAdjust="spacingAndGlyphs">22 Aug 00:00</text>
<rect x="197" y="814" width="1" height="3" fill="#000"/>
<text transform="translate(196,826) scale(1,1.0)" font-size="9.4" fill="#000" stroke="#000" stroke-width="0.25" text-anchor="start" textLength="56.86" lengthAdjust="spacingAndGlyphs">22 Aug 16:00</text>
<rect x="261" y="814" width="1" height="3" fill="#000"/>
<text transform="translate(260,826) scale(1,1.0)" font-size="9.4" fill="#000" stroke="#000" stroke-width="0.25" text-anchor="start" textLength="56.86" lengthAdjust="spacingAndGlyphs">23 Aug 08:00</text>
<rect x="325" y="814" width="1" height="3" fill="#000"/>
<text transform="translate(324,826) scale(1,1.0)" font-size="9.4" fill="#000" stroke="#000" stroke-width="0.25" text-anchor="start" textLength="56.86" lengthAdjust="spacingAndGlyphs">24 Aug 00:00</text>
<rect x="389" y="814" width="1" height="3" fill="#000"/>
<text transform="translate(388,826) scale(1,1.0)" font-size="9.4" fill="#000" stroke="#000" stroke-width="0.25" text-anchor="start" textLength="56.86" lengthAdjust="spacingAndGlyphs">24 Aug 16:00</text>
<rect x="453" y="814" width="1" height="3" fill="#000"/>
<text transform="translate(452,826) scale(1,1.0)" font-size="9.4" fill="#000" stroke="#000" stroke-width="0.25" text-anchor="start" textLength="56.86" lengthAdjust="spacingAndGlyphs">25 Aug 08:00</text>
<rect x="517" y="814" width="1" height="3" fill="#000"/>
<text transform="translate(516,826) scale(1,1.0)" font-size="9.4" fill="#000" stroke="#000" stroke-width="0.25" text-anchor="start" textLength="56.86" lengthAdjust="spacingAndGlyphs">28 Aug 00:00</text>
<rect x="581" y="814" width="1" height="3" fill="#000"/>
<text transform="translate(580,826) scale(1,1.0)" font-size="9.4" fill="#000" stroke="#000" stroke-width="0.25" text-anchor="start" textLength="56.86" lengthAdjust="spacingAndGlyphs">28 Aug 16:00</text>
<rect x="645" y="814" width="1" height="3" fill="#000"/>
<text transform="translate(644,826) scale(1,1.0)" font-size="9.4" fill="#000" stroke="#000" stroke-width="0.25" text-anchor="start" textLength="56.86" lengthAdjust="spacingAndGlyphs">29 Aug 08:00</text>
<rect x="709" y="814" width="1" height="3" fill="#000"/>
<text transform="translate(708,826) scale(1,1.0)" font-size="9.4" fill="#000" stroke="#000" stroke-width="0.25" text-anchor="start" textLength="56.86" lengthAdjust="spacingAndGlyphs">30 Aug 04:00</text>
<rect x="773" y="814" width="1" height="3" fill="#000"/>
<text transform="translate(772,826) scale(1,1.0)" font-size="9.4" fill="#000" stroke="#000" stroke-width="0.25" text-anchor="start" textLength="56.86" lengthAdjust="spacingAndGlyphs">30 Aug 20:00</text>
<rect x="837" y="814" width="1" height="3" fill="#000"/>
<text transform="translate(836,826) scale(1,1.0)" font-size="9.4" fill="#000" stroke="#000" stroke-width="0.25" text-anchor="start" textLength="56.86" lengthAdjust="spacingAndGlyphs">31 Aug 12:00</text>
<rect x="901" y="814" width="1" height="3" fill="#000"/>
<text transform="translate(900,826) scale(1,1.0)" font-size="9.4" fill="#000" stroke="#000" stroke-width="0.25" text-anchor="start" textLength="50.94" lengthAdjust="spacingAndGlyphs">1 Sep 04:00</text>
<rect x="965" y="814" width="1" height="3" fill="#000"/>
<text transform="translate(964,826) scale(1,1.0)" font-size="9.4" fill="#000" stroke="#000" stroke-width="0.25" text-anchor="start" textLength="50.94" lengthAdjust="spacingAndGlyphs">1 Sep 20:00</text>
<rect x="1029" y="814" width="1" height="3" fill="#000"/>
<text transform="translate(1028,826) scale(1,1.0)" font-size="9.4" fill="#000" stroke="#000" stroke-width="0.25" text-anchor="start" textLength="50.94" lengthAdjust="spacingAndGlyphs">4 Sep 12:00</text>
<rect x="1093" y="814" width="1" height="3" fill="#000"/>
<text transform="translate(1092,826) scale(1,1.0)" font-size="9.4" fill="#000" stroke="#000" stroke-width="0.25" text-anchor="start" textLength="50.94" lengthAdjust="spacingAndGlyphs">5 Sep 08:00</text>
<rect x="1157" y="814" width="1" height="3" fill="#000"/>
<text transform="translate(1156,826) scale(1,1.0)" font-size="9.4" fill="#000" stroke="#000" stroke-width="0.25" text-anchor="start" textLength="50.94" lengthAdjust="spacingAndGlyphs">6 Sep 00:00</text>
<rect x="1221" y="814" width="1" height="3" fill="#000"/>
<text transform="translate(1220,826) scale(1,1.0)" font-size="9.4" fill="#000" stroke="#000" stroke-width="0.25" text-anchor="start" textLength="50.94" lengthAdjust="spacingAndGlyphs">6 Sep 16:00</text>
<rect x="1285" y="814" width="1" height="3" fill="#000"/>
<text transform="translate(1284,826) scale(1,1.0)" font-size="9.4" fill="#000" stroke="#000" stroke-width="0.25" text-anchor="start" textLength="50.94" lengthAdjust="spacingAndGlyphs">7 Sep 08:00</text></svg>
<svg id="toolbar" width="1655" height="24" viewBox="0 0 1655 24" shape-rendering="crispEdges" style="position:absolute;left:0;top:0"><defs><pattern id="dither" width="2" height="2" patternUnits="userSpaceOnUse"><rect width="2" height="2" fill="#f0f0f0"/><rect width="1" height="1" fill="#fff"/><rect x="1" y="1" width="1" height="1" fill="#fff"/></pattern><linearGradient id="gold" x1="0" y1="0" x2="0.6" y2="1"><stop offset="0" stop-color="#fbe24a"/><stop offset="0.5" stop-color="#f0bc18"/><stop offset="1" stop-color="#d89a10"/></linearGradient><linearGradient id="cloud" x1="0" y1="0" x2="0" y2="1"><stop offset="0" stop-color="#ffffff"/><stop offset="1" stop-color="#b8c4dc"/></linearGradient><linearGradient id="lens" x1="0" y1="0" x2="0" y2="1"><stop offset="0" stop-color="#c8e8f8"/><stop offset="1" stop-color="#eefaff"/></linearGradient><linearGradient id="gplus" x1="0" y1="0" x2="0" y2="1"><stop offset="0" stop-color="#70f070"/><stop offset="1" stop-color="#10a010"/></linearGradient><linearGradient id="gcandle" x1="0" y1="0" x2="0" y2="1"><stop offset="0" stop-color="#90f0a0"/><stop offset="1" stop-color="#30d050"/></linearGradient><radialGradient id="redb" cx="0.5" cy="0.3" r="0.8"><stop offset="0" stop-color="#f06040"/><stop offset="1" stop-color="#d81808"/></radialGradient><linearGradient id="hat" x1="0" y1="0" x2="0" y2="1"><stop offset="0" stop-color="#8ccdf0"/><stop offset="1" stop-color="#3a9ccc"/></linearGradient><linearGradient id="yel" x1="0" y1="0" x2="1" y2="1"><stop offset="0" stop-color="#f8e060"/><stop offset="1" stop-color="#f0c020"/></linearGradient><linearGradient id="sig" x1="0" y1="0" x2="1" y2="1"><stop offset="0.35" stop-color="#4a78d8" stop-opacity="0.42"/><stop offset="0.8" stop-color="#30a030" stop-opacity="0.8"/></linearGradient><linearGradient id="clk" x1="0" y1="0" x2="0" y2="1"><stop offset="0" stop-color="#3a8cf0"/><stop offset="1" stop-color="#0a48b0"/></linearGradient><linearGradient id="bluesq" x1="0" y1="0" x2="1" y2="1"><stop offset="0" stop-color="#3a70e0"/><stop offset="0.5" stop-color="#0a38b8"/><stop offset="1" stop-color="#3068d8"/></linearGradient><linearGradient id="greensq" x1="0" y1="0" x2="1" y2="1"><stop offset="0" stop-color="#48a818"/><stop offset="0.5" stop-color="#2c900c"/><stop offset="1" stop-color="#48b020"/></linearGradient></defs>
<rect x="0" y="0" width="1655" height="24" fill="#f0f0f0" />
<text x="-2.2" y="15.4" font-size="11.7" font-weight="500" fill="#000" font-family="'Liberation Sans','Noto Sans CJK SC',sans-serif">新订单</text>
<g shape-rendering="geometricPrecision"><path d="M50.8,5.3 L60.2,11.4 L60.7,14.4 L53,19.7 L45.3,14.1 Q48.6,11.6 49.4,8.6 Z" fill="url(#gold)" stroke="#9c6614" stroke-width="1.1" stroke-linejoin="round"/><path d="M53.2,18.7 L60.2,13.9 L59.9,12.0 L53.0,16.9 Z" fill="#e6d49a"/><path d="M53.1,17.8 L60,13" stroke="#a87820" stroke-width="0.5"/><path d="M46.3,14.0 L53,18.6 L53,16.9 L47.6,13 Z" fill="#fbe078" opacity="0.9"/><path d="M47.6,13 L53,16.9 L59.9,12" fill="none" stroke="#b07c18" stroke-width="0.6"/></g>
<g shape-rendering="geometricPrecision"><path d="M75,4.6 L83.5,4.2 L86,6 L86,14 L75,14 Z" fill="#22a0ff"/><path d="M75,4.6 L78.6,7 L78.6,14 L75,14 Z" fill="#0a88ee"/><path d="M75.2,4.8 L78.6,7 L78.6,14" fill="none" stroke="#e8f4ff" stroke-width="0.6"/><path d="M75,4.6 L83.5,4.2 L86,6 L78.6,7 Z" fill="#3a8ce8"/><rect x="80.2" y="8.6" width="4.4" height="1" fill="#e8f6ff"/><rect x="79.5" y="10.8" width="6" height="0.6" fill="#9ad4ff"/><path d="M76.2,19.4 C72.6,19.4 72.4,15.2 75.6,14.9 C76,12.6 79.2,12.2 80.2,13.8 C81.2,11.6 85,12 85.3,14.4 C89.2,14.2 89.8,19.4 86,19.4 Z" fill="url(#cloud)" stroke="#4868a8" stroke-width="0.9"/></g>
<g shape-rendering="geometricPrecision" fill="none"><path d="M109.4,12 L109.4,19.7 A7.9,7.9 0 0 0 115.4,7.4 Z" fill="#60b060" opacity="0.38"/><circle cx="109" cy="11.8" r="7.7" stroke="url(#sig)" stroke-width="1.0" stroke-dasharray="5 1.2"/><circle cx="109" cy="11.8" r="5.5" stroke="url(#sig)" stroke-width="1.0" stroke-dasharray="4 1"/><circle cx="109" cy="11.8" r="3.4" stroke="url(#sig)" stroke-width="0.9"/><circle cx="108.8" cy="11.6" r="1.9" fill="#2458d0"/><path d="M109.6,12 L109.6,19.7 L111.6,19.2" stroke="#18a018" stroke-width="1.3"/></g>
<g shape-rendering="geometricPrecision"><path d="M128.8,10.6 L143.8,10.2 L138.6,19.7 L135.2,19.5 Z" fill="url(#yel)" stroke="#d8a818" stroke-width="0.6"/><path d="M128.2,8.7 C128.3,6.9 130.6,6.9 132.3,7.5 L140.4,7.1 C141.8,6.1 144.3,6 143.9,7.7 C143.3,10.1 139,11.8 135.4,11.8 C131.6,11.8 128,10.7 128.2,8.7 Z" fill="#48a4d4" stroke="#2a84b4" stroke-width="0.8"/><path d="M132.2,8.1 C132.4,5.2 134,4.1 136.4,4.1 C138.7,4.1 140.2,5.1 140.6,7.7 C138.6,9.5 134.4,9.7 132.2,8.1 Z" fill="url(#hat)" stroke="#2a84b4" stroke-width="0.7"/><path d="M140.8,9.6 L143.2,7.6" stroke="#c8e8fa" stroke-width="0.9"/><circle cx="140.5" cy="15.6" r="4.2" fill="url(#redb)"/><rect x="139" y="14.1" width="3" height="3" fill="#fff"/></g>
<text x="149.6" y="15.4" font-size="11.7" font-weight="500" fill="#000" font-family="'Liberation Sans','Noto Sans CJK SC',sans-serif">自动交易</text>
<rect x="204" y="0" width="1" height="24" fill="#a0a0a0" /><rect x="205" y="0" width="1" height="24" fill="#ffffff" />
<rect x="208" y="2" width="3" height="1" fill="#a8a8a8" /><rect x="208" y="4" width="3" height="1" fill="#a8a8a8" /><rect x="208" y="6" width="3" height="1" fill="#a8a8a8" /><rect x="208" y="8" width="3" height="1" fill="#a8a8a8" /><rect x="208" y="10" width="3" height="1" fill="#a8a8a8" /><rect x="208" y="12" width="3" height="1" fill="#a8a8a8" /><rect x="208" y="14" width="3" height="1" fill="#a8a8a8" /><rect x="208" y="16" width="3" height="1" fill="#a8a8a8" /><rect x="208" y="18" width="3" height="1" fill="#a8a8a8" /><rect x="208" y="20" width="3" height="1" fill="#a8a8a8" />
<rect x="223" y="9" width="1" height="8" fill="#dcdcdc" /><rect x="223" y="18" width="9" height="1" fill="#dcdcdc" /><rect x="222" y="6" width="1" height="14" fill="#555" /><rect x="220" y="17" width="13" height="1" fill="#555" /><g shape-rendering="geometricPrecision" fill="#555"><polygon points="220.6,8.4 222.5,5.4 224.4,8.4"/><polygon points="231.6,15.6 234.4,17.5 231.6,19.4"/></g>
<rect x="228" y="7" width="1" height="9" fill="#0a8a0a" /><rect x="229" y="8" width="2" height="1" fill="#0a8a0a" /><rect x="226" y="14" width="2" height="1" fill="#0a8a0a" />
<rect x="242" y="0" width="25" height="22" fill="url(#dither)" /><rect x="242" y="0" width="25" height="1" fill="#a0a0a0" /><rect x="242" y="0" width="1" height="22" fill="#a0a0a0" /><rect x="267" y="0" width="1" height="23" fill="#fff" /><rect x="242" y="22" width="26" height="1" fill="#fff" />
<rect x="251" y="9" width="1" height="8" fill="#dcdcdc" /><rect x="251" y="18" width="9" height="1" fill="#dcdcdc" /><rect x="250" y="6" width="1" height="14" fill="#555" /><rect x="248" y="17" width="13" height="1" fill="#555" /><g shape-rendering="geometricPrecision" fill="#555"><polygon points="248.6,8.4 250.5,5.4 252.4,8.4"/><polygon points="259.6,15.6 262.4,17.5 259.6,19.4"/></g>
<rect x="256" y="4" width="1" height="12" fill="#0a8a0a" /><rect x="254" y="6" width="5" height="8" fill="#0a8a0a" /><rect x="255" y="7" width="3" height="6" fill="url(#gcandle)" />
<rect x="279" y="9" width="1" height="8" fill="#dcdcdc" /><rect x="279" y="18" width="9" height="1" fill="#dcdcdc" /><rect x="278" y="6" width="1" height="14" fill="#555" /><rect x="276" y="17" width="13" height="1" fill="#555" /><g shape-rendering="geometricPrecision" fill="#555"><polygon points="276.6,8.4 278.5,5.4 280.4,8.4"/><polygon points="287.6,15.6 290.4,17.5 287.6,19.4"/></g>
<path d="M277.2,14.6 C279.5,13.5 281,9.4 283,9.4 C285,9.4 286.5,12.6 288.8,13" fill="none" stroke="#1a8a1a" stroke-width="1.2" shape-rendering="geometricPrecision"/>
<rect x="299" y="1" width="1" height="21" fill="#a0a0a0" />
<g shape-rendering="geometricPrecision"><path d="M318.2,14.0 L323.2,19.0" stroke="#a87c10" stroke-width="3.4" stroke-linecap="square"/><path d="M318.2,14.0 L323.2,19.0" stroke="#f0d440" stroke-width="1.9" stroke-linecap="square"/><circle cx="314" cy="10" r="5.6" fill="url(#lens)" stroke="#3a80c8" stroke-width="1.2"/><rect x="310.8" y="9" width="6.4" height="1.9" fill="#3a88b0"/><rect x="313.05" y="6.8" width="1.9" height="6.4" fill="#3a88b0"/></g>
<g shape-rendering="geometricPrecision"><path d="M346.2,14.0 L351.2,19.0" stroke="#a87c10" stroke-width="3.4" stroke-linecap="square"/><path d="M346.2,14.0 L351.2,19.0" stroke="#f0d440" stroke-width="1.9" stroke-linecap="square"/><circle cx="342" cy="10" r="5.6" fill="url(#lens)" stroke="#3a80c8" stroke-width="1.2"/><rect x="338.8" y="9" width="6.4" height="1.9" fill="#3a88b0"/></g>
<g shape-rendering="geometricPrecision"><rect x="364" y="4" width="8" height="8" fill="url(#greensq)" rx="0.8"/><rect x="365" y="7" width="6" height="4" fill="#fff" /><rect x="365" y="5" width="1" height="1" fill="#e8f0ff" /><rect x="366" y="8" width="4" height="1" fill="url(#greensq)" opacity="0.4"/><rect x="366" y="10" width="4" height="1" fill="url(#greensq)" /><rect x="372" y="4" width="8" height="8" fill="url(#bluesq)" rx="0.8"/><rect x="373" y="7" width="6" height="4" fill="#fff" /><rect x="373" y="5" width="1" height="1" fill="#e8f0ff" /><rect x="374" y="8" width="4" height="1" fill="url(#bluesq)" opacity="0.4"/><rect x="374" y="10" width="4" height="1" fill="url(#bluesq)" /><rect x="364" y="12" width="8" height="8" fill="url(#bluesq)" rx="0.8"/><rect x="365" y="15" width="6" height="4" fill="#fff" /><rect x="365" y="13" width="1" height="1" fill="#e8f0ff" /><rect x="366" y="16" width="4" height="1" fill="url(#bluesq)" opacity="0.4"/><rect x="366" y="18" width="4" height="1" fill="url(#bluesq)" /><rect x="372" y="12" width="8" height="8" fill="url(#greensq)" rx="0.8"/><rect x="373" y="15" width="6" height="4" fill="#fff" /><rect x="373" y="13" width="1" height="1" fill="#e8f0ff" /><rect x="374" y="16" width="4" height="1" fill="url(#greensq)" opacity="0.4"/><rect x="374" y="18" width="4" height="1" fill="url(#greensq)" /></g>
<rect x="389" y="1" width="1" height="21" fill="#a0a0a0" />
<rect x="394" y="0" width="25" height="22" fill="url(#dither)" /><rect x="394" y="0" width="25" height="1" fill="#a0a0a0" /><rect x="394" y="0" width="1" height="22" fill="#a0a0a0" /><rect x="419" y="0" width="1" height="23" fill="#fff" /><rect x="394" y="22" width="26" height="1" fill="#fff" />
<rect x="403" y="9" width="1" height="8" fill="#dcdcdc" /><rect x="403" y="18" width="9" height="1" fill="#dcdcdc" /><rect x="402" y="6" width="1" height="14" fill="#555" /><rect x="400" y="17" width="13" height="1" fill="#555" /><g shape-rendering="geometricPrecision" fill="#555"><polygon points="400.6,8.4 402.5,5.4 404.4,8.4"/><polygon points="411.6,15.6 414.4,17.5 411.6,19.4"/></g>
<polygon points="407.3,8.4 407.3,14.6 411,11.5" fill="#58d058" stroke="#0a9a0a" stroke-width="1" shape-rendering="geometricPrecision"/>
<rect x="422" y="0" width="25" height="22" fill="url(#dither)" /><rect x="422" y="0" width="25" height="1" fill="#a0a0a0" /><rect x="422" y="0" width="1" height="22" fill="#a0a0a0" /><rect x="447" y="0" width="1" height="23" fill="#fff" /><rect x="422" y="22" width="26" height="1" fill="#fff" />
<rect x="431" y="9" width="1" height="8" fill="#dcdcdc" /><rect x="431" y="18" width="9" height="1" fill="#dcdcdc" /><rect x="430" y="6" width="1" height="14" fill="#555" /><rect x="428" y="17" width="13" height="1" fill="#555" /><g shape-rendering="geometricPrecision" fill="#555"><polygon points="428.6,8.4 430.5,5.4 432.4,8.4"/><polygon points="439.6,15.6 442.4,17.5 439.6,19.4"/></g>
<g shape-rendering="geometricPrecision"><rect x="436" y="6" width="1.2" height="10" fill="#1a6aa0" /><path d="M437.6,11.5 L442,11.5 M440.4,9.4 L437.8,11.5 L440.4,13.6" fill="none" stroke="#d84a10" stroke-width="1.2"/><polygon points="437.4,11.5 440.6,9.2 440,11.5 440.6,13.8" fill="#d84a10"/></g>
<rect x="451" y="1" width="1" height="21" fill="#a0a0a0" />
<g shape-rendering="geometricPrecision"><path d="M462.2,4.6 L469.6,4.6 L472.4,7.4 L472.4,16.6 Q472.4,17.6 471.4,17.6 L462.2,17.6 Q461.2,17.6 461.2,16.6 L461.2,5.6 Q461.2,4.6 462.2,4.6 Z" fill="#fff" stroke="#8a8a8a" stroke-width="0.9"/><path d="M469.6,4.6 L469.6,7.4 L472.4,7.4" fill="#e0e0e0" stroke="#8a8a8a" stroke-width="0.7"/><path d="M465,7 L464,7 L464,14.4 M464,10 L465.4,10" stroke="#6a5a3a" stroke-width="0.9" fill="none"/><path d="M469.4,10.4 L472.8,10.4 L472.8,14.4 L476.8,14.4 L476.8,17.8 L472.8,17.8 L472.8,21.6 L469.4,21.6 L469.4,17.8 L465.6,17.8 L465.6,14.4 L469.4,14.4 Z" fill="url(#gplus)" stroke="#0a800a" stroke-width="0.9"/></g>
<polygon points="482.70000000000005,11 488.5,11 485.6,14.2" fill="#000" shape-rendering="geometricPrecision"/>
<g shape-rendering="geometricPrecision"><circle cx="507" cy="12" r="7.9" fill="url(#clk)"/><circle cx="507" cy="12" r="5.3" fill="#f8fbff"/><circle cx="511.30" cy="12.00" r="0.45" fill="#909090"/><circle cx="510.04" cy="15.04" r="0.45" fill="#909090"/><circle cx="507.00" cy="16.30" r="0.45" fill="#909090"/><circle cx="503.96" cy="15.04" r="0.45" fill="#909090"/><circle cx="502.70" cy="12.00" r="0.45" fill="#909090"/><circle cx="503.96" cy="8.96" r="0.45" fill="#909090"/><circle cx="507.00" cy="7.70" r="0.45" fill="#909090"/><circle cx="510.04" cy="8.96" r="0.45" fill="#909090"/><path d="M506.6,8.6 L506.6,12.1 L509.8,12.1" fill="none" stroke="#303030" stroke-width="1.1"/><rect x="505.6" y="14.6" width="2.6" height="0.7" fill="#8ab8f0"/></g>
<polygon points="521.6,11 527.4,11 524.5,14.2" fill="#000" shape-rendering="geometricPrecision"/>
<rect x="538" y="5" width="16" height="14" fill="#3070b8" rx="0.8"/><rect x="539" y="6" width="14" height="2" fill="#5a9ce0" /><rect x="540" y="6" width="5" height="1" fill="#b8dcf8" /><rect x="539" y="8" width="14" height="5" fill="#fff" /><rect x="539" y="13" width="14" height="1" fill="#7aa4d0" /><rect x="539" y="14" width="14" height="4" fill="#fff" />
<rect x="540" y="11" width="3" height="1" fill="#9a2000" />
<rect x="543" y="10" width="2" height="1" fill="#9a2000" />
<rect x="545" y="9" width="2" height="1" fill="#9a2000" />
<rect x="547" y="10" width="3" height="1" fill="#9a2000" />
<rect x="550" y="9" width="2" height="1" fill="#9a2000" />
<rect x="541" y="16" width="2" height="1" fill="#108020" />
<rect x="543" y="15" width="2" height="1" fill="#108020" />
<rect x="545" y="16" width="2" height="1" fill="#108020" />
<rect x="547" y="15" width="1" height="1" fill="#108020" />
<rect x="548" y="14" width="2" height="1" fill="#108020" />
<rect x="550" y="15" width="1" height="1" fill="#108020" />
<rect x="551" y="16" width="1" height="1" fill="#108020" />
<polygon points="560.6,11 566.4,11 563.5,14.2" fill="#000" shape-rendering="geometricPrecision"/>
<rect x="572" y="0" width="1" height="24" fill="#a0a0a0" /><rect x="573" y="0" width="1" height="24" fill="#ffffff" />
<rect x="576" y="2" width="3" height="1" fill="#a8a8a8" /><rect x="576" y="4" width="3" height="1" fill="#a8a8a8" /><rect x="576" y="6" width="3" height="1" fill="#a8a8a8" /><rect x="576" y="8" width="3" height="1" fill="#a8a8a8" /><rect x="576" y="10" width="3" height="1" fill="#a8a8a8" /><rect x="576" y="12" width="3" height="1" fill="#a8a8a8" /><rect x="576" y="14" width="3" height="1" fill="#a8a8a8" /><rect x="576" y="16" width="3" height="1" fill="#a8a8a8" /><rect x="576" y="18" width="3" height="1" fill="#a8a8a8" /><rect x="576" y="20" width="3" height="1" fill="#a8a8a8" />
<rect x="582" y="0" width="25" height="22" fill="url(#dither)" /><rect x="582" y="0" width="25" height="1" fill="#a0a0a0" /><rect x="582" y="0" width="1" height="22" fill="#a0a0a0" /><rect x="607" y="0" width="1" height="23" fill="#fff" /><rect x="582" y="22" width="26" height="1" fill="#fff" />
<path d="M590.2,4.8 L590.2,16.2 L592.8,13.8 L595.2,19.2 L597.2,18.3 L594.9,13.2 L598.2,13 Z" fill="#505050" shape-rendering="geometricPrecision"/>
<rect x="615" y="12" width="6" height="1" fill="#505050" /><rect x="624" y="12" width="6" height="1" fill="#505050" /><rect x="622" y="5" width="1" height="6" fill="#505050" /><rect x="622" y="14" width="1" height="6" fill="#505050" /><rect x="622" y="12" width="1" height="1" fill="#b0b0b0" />
<rect x="639" y="1" width="1" height="21" fill="#a0a0a0" />
<rect x="656" y="6" width="1" height="13" fill="#505050" />
<rect x="679" y="12" width="12" height="1" fill="#505050" />
<path d="M707,19 L719.2,6.9" stroke="#505050" stroke-width="1.1" shape-rendering="geometricPrecision"/>
<g shape-rendering="geometricPrecision" fill="none"><path d="M732.7,13.6 L740.7,6.2 M738,18.8 L747.2,10" stroke="#707070" stroke-width="0.9" stroke-dasharray="1.1 0.7"/><path d="M735.3,18.7 L735.6,11.6 L738.3,15.5 L738.6,10.4 L741.8,14.9 L741.6,8.3 L745.2,11.2 L744.5,4.3" stroke="#404040" stroke-width="1.15" stroke-linejoin="miter"/></g>
<text x="743.6" y="20.8" font-size="6.6" font-weight="bold" fill="#404040" font-family="'Liberation Sans',sans-serif">E</text>
<rect x="762" y="5" width="1" height="1" fill="#505050" /><rect x="764" y="5" width="1" height="1" fill="#505050" /><rect x="766" y="5" width="1" height="1" fill="#505050" /><rect x="768" y="5" width="1" height="1" fill="#505050" /><rect x="770" y="5" width="1" height="1" fill="#505050" /><rect x="772" y="5" width="1" height="1" fill="#505050" /><rect x="774" y="5" width="1" height="1" fill="#505050" />
<rect x="762" y="8" width="1" height="1" fill="#505050" /><rect x="764" y="8" width="1" height="1" fill="#505050" /><rect x="766" y="8" width="1" height="1" fill="#505050" /><rect x="768" y="8" width="1" height="1" fill="#505050" /><rect x="770" y="8" width="1" height="1" fill="#505050" /><rect x="772" y="8" width="1" height="1" fill="#505050" /><rect x="774" y="8" width="1" height="1" fill="#505050" />
<rect x="762" y="12" width="1" height="1" fill="#505050" /><rect x="764" y="12" width="1" height="1" fill="#505050" /><rect x="766" y="12" width="1" height="1" fill="#505050" /><rect x="768" y="12" width="1" height="1" fill="#505050" /><rect x="770" y="12" width="1" height="1" fill="#505050" /><rect x="772" y="12" width="1" height="1" fill="#505050" /><rect x="774" y="12" width="1" height="1" fill="#505050" />
<rect x="762" y="16" width="1" height="1" fill="#505050" /><rect x="764" y="16" width="1" height="1" fill="#505050" /><rect x="766" y="16" width="1" height="1" fill="#505050" /><rect x="768" y="16" width="1" height="1" fill="#505050" /><rect x="770" y="16" width="1" height="1" fill="#505050" />
<text x="771.8" y="20.8" font-size="6.6" font-weight="bold" fill="#404040" font-family="'Liberation Sans',sans-serif">F</text>
<text x="792.6" y="17" font-size="12.6" fill="#505050" stroke="#505050" stroke-width="0.45" textLength="8" lengthAdjust="spacingAndGlyphs" font-family="'Liberation Sans',sans-serif">A</text>
<rect x="819" y="6" width="1" height="1" fill="#505050" /><rect x="819" y="18" width="1" height="1" fill="#505050" />
<rect x="821" y="6" width="1" height="1" fill="#505050" /><rect x="821" y="18" width="1" height="1" fill="#505050" />
<rect x="823" y="6" width="1" height="1" fill="#505050" /><rect x="823" y="18" width="1" height="1" fill="#505050" />
<rect x="825" y="6" width="1" height="1" fill="#505050" /><rect x="825" y="18" width="1" height="1" fill="#505050" />
<rect x="827" y="6" width="1" height="1" fill="#505050" /><rect x="827" y="18" width="1" height="1" fill="#505050" />
<rect x="829" y="6" width="1" height="1" fill="#505050" /><rect x="829" y="18" width="1" height="1" fill="#505050" />
<rect x="819" y="6" width="1" height="1" fill="#505050" /><rect x="830" y="6" width="1" height="1" fill="#505050" />
<rect x="819" y="8" width="1" height="1" fill="#505050" /><rect x="830" y="8" width="1" height="1" fill="#505050" />
<rect x="819" y="10" width="1" height="1" fill="#505050" /><rect x="830" y="10" width="1" height="1" fill="#505050" />
<rect x="819" y="12" width="1" height="1" fill="#505050" /><rect x="830" y="12" width="1" height="1" fill="#505050" />
<rect x="819" y="14" width="1" height="1" fill="#505050" /><rect x="830" y="14" width="1" height="1" fill="#505050" />
<rect x="819" y="16" width="1" height="1" fill="#505050" /><rect x="830" y="16" width="1" height="1" fill="#505050" />
<rect x="819" y="18" width="1" height="1" fill="#505050" /><rect x="830" y="18" width="1" height="1" fill="#505050" />
<rect x="818" y="5" width="2" height="1" fill="#505050" />
<text x="821.6" y="17" font-size="11.5" font-weight="bold" fill="#505050" font-family="'Liberation Sans',sans-serif">T</text>
<g shape-rendering="geometricPrecision" fill="#505050"><polygon points="846.2,9.2 849.6,6 853,9.2 849.6,10.4"/><polygon points="853,15.4 856.5,14.2 860,15.4 856.5,19"/><path d="M848.4,13.4 L850.6,15.4 L855,10.2" fill="none" stroke="#505050" stroke-width="1.2"/></g>
<polygon points="866.6,11 872.4,11 869.5,14.2" fill="#000" shape-rendering="geometricPrecision"/>
<rect x="878" y="0" width="1" height="24" fill="#a0a0a0" /><rect x="879" y="0" width="1" height="24" fill="#ffffff" />
<rect x="882" y="2" width="3" height="1" fill="#a8a8a8" /><rect x="882" y="4" width="3" height="1" fill="#a8a8a8" /><rect x="882" y="6" width="3" height="1" fill="#a8a8a8" /><rect x="882" y="8" width="3" height="1" fill="#a8a8a8" /><rect x="882" y="10" width="3" height="1" fill="#a8a8a8" /><rect x="882" y="12" width="3" height="1" fill="#a8a8a8" /><rect x="882" y="14" width="3" height="1" fill="#a8a8a8" /><rect x="882" y="16" width="3" height="1" fill="#a8a8a8" /><rect x="882" y="18" width="3" height="1" fill="#a8a8a8" /><rect x="882" y="20" width="3" height="1" fill="#a8a8a8" />
<rect x="1028" y="0" width="25" height="22" fill="url(#dither)" /><rect x="1028" y="0" width="25" height="1" fill="#a0a0a0" /><rect x="1028" y="0" width="1" height="22" fill="#a0a0a0" /><rect x="1053" y="0" width="1" height="23" fill="#fff" /><rect x="1028" y="22" width="26" height="1" fill="#fff" />
<text x="893.4" y="16.2" font-size="9.6" fill="#303030" textLength="13.1" lengthAdjust="spacingAndGlyphs" font-family="'DejaVu Sans Condensed','DejaVu Sans','Liberation Sans',sans-serif">M1</text>
<text x="921.4" y="16.2" font-size="9.6" fill="#303030" textLength="13.0" lengthAdjust="spacingAndGlyphs" font-family="'DejaVu Sans Condensed','DejaVu Sans','Liberation Sans',sans-serif">M5</text>
<text x="947.4" y="16.2" font-size="9.6" fill="#303030" textLength="18.0" lengthAdjust="spacingAndGlyphs" font-family="'DejaVu Sans Condensed','DejaVu Sans','Liberation Sans',sans-serif">M15</text>
<text x="975.3" y="16.2" font-size="9.6" fill="#303030" textLength="18.2" lengthAdjust="spacingAndGlyphs" font-family="'DejaVu Sans Condensed','DejaVu Sans','Liberation Sans',sans-serif">M30</text>
<text x="1006.2" y="16.2" font-size="9.6" fill="#303030" textLength="12.0" lengthAdjust="spacingAndGlyphs" font-family="'DejaVu Sans Condensed','DejaVu Sans','Liberation Sans',sans-serif">H1</text>
<text x="1033.2" y="16.2" font-size="9.6" fill="#303030" textLength="12.6" lengthAdjust="spacingAndGlyphs" font-family="'DejaVu Sans Condensed','DejaVu Sans','Liberation Sans',sans-serif">H4</text>
<text x="1062.2" y="16.2" font-size="9.6" fill="#303030" textLength="12.0" lengthAdjust="spacingAndGlyphs" font-family="'DejaVu Sans Condensed','DejaVu Sans','Liberation Sans',sans-serif">D1</text>
<text x="1089.8" y="16.2" font-size="9.6" fill="#303030" textLength="14.5" lengthAdjust="spacingAndGlyphs" font-family="'DejaVu Sans Condensed','DejaVu Sans','Liberation Sans',sans-serif">W1</text>
<text x="1116.6" y="16.2" font-size="9.6" fill="#303030" textLength="15.1" lengthAdjust="spacingAndGlyphs" font-family="'DejaVu Sans Condensed','DejaVu Sans','Liberation Sans',sans-serif">MN</text>
<rect x="1139" y="0" width="1" height="24" fill="#a0a0a0" /><rect x="1140" y="0" width="1" height="24" fill="#ffffff" />
<g shape-rendering="geometricPrecision"><path d="M1606.8,12 L1602,17" stroke="#2a5ed0" stroke-width="2.2" stroke-linecap="round"/><circle cx="1609.6" cy="9" r="3.8" fill="#f4f8ff" stroke="#2a5ed0" stroke-width="1.3"/></g>
<g shape-rendering="geometricPrecision"><path d="M1626.4,13.6 C1626.4,10.4 1629.4,9.2 1632.4,9.2 C1636,9.2 1638.6,10.8 1638.6,13.8 C1638.6,16.8 1635.6,18 1632.6,18 L1631.4,18 L1629.4,20.4 L1629.6,17.6 C1627.6,17 1626.4,15.6 1626.4,13.6 Z" fill="#e4e6ee" stroke="#a8a8a8" stroke-width="0.8"/><circle cx="1640.7" cy="9.3" r="8.1" fill="url(#redb)"/></g>
<text x="1640.6" y="14.2" font-size="13" fill="#fff" text-anchor="middle" font-family="'DejaVu Sans','Liberation Sans',sans-serif">1</text></svg>
</body></html>
